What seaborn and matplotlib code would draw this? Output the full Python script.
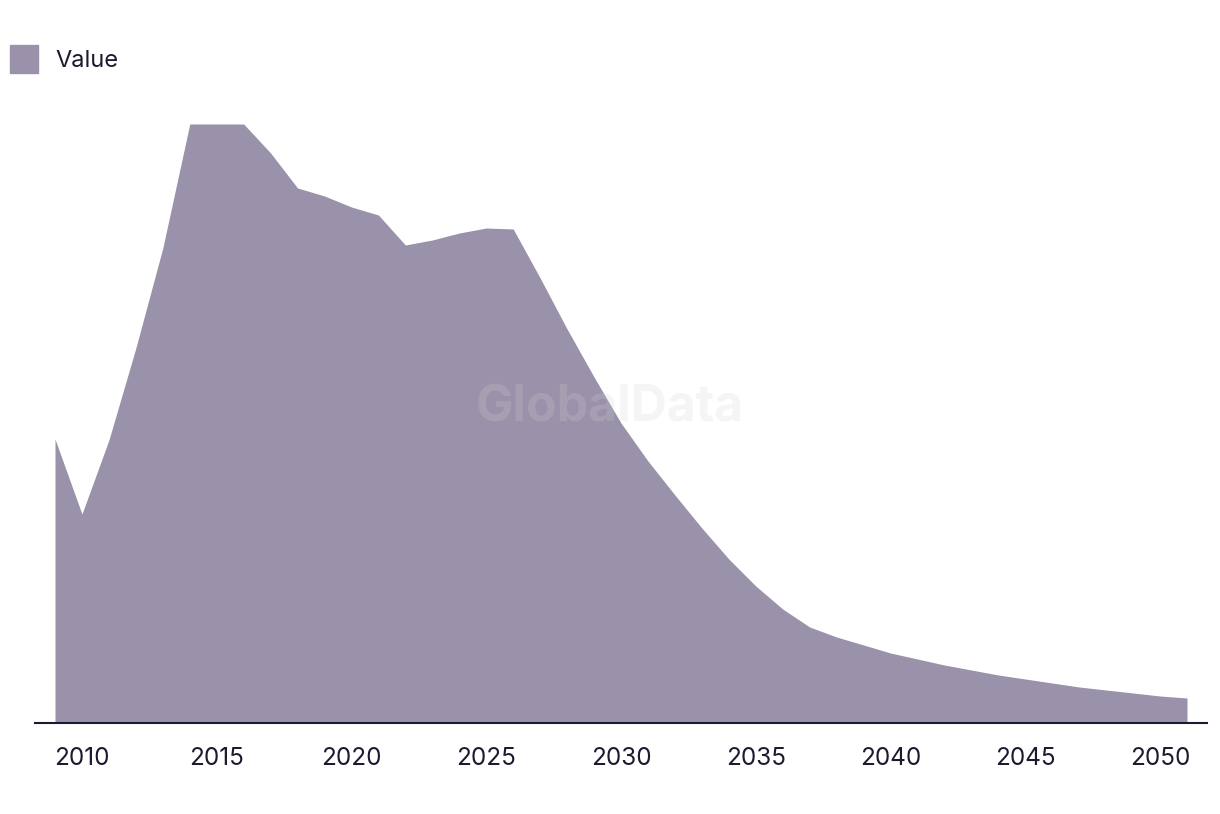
import matplotlib
matplotlib.use("Agg")
import matplotlib.pyplot as plt
import matplotlib.patches as mpatches
import seaborn as sns
import pandas as pd

years = list(range(2009, 2052))
values = [284, 209, 283, 375, 475, 599, 599, 599, 570, 535, 527, 516, 508, 478,
          483, 490, 495, 494, 445, 394, 346, 300, 262, 228, 195, 164, 137, 114,
          96, 86, 78, 70, 64, 58, 53, 48, 44, 40, 36, 33, 30, 27, 25]
tick_years = [2010, 2015, 2020, 2025, 2030, 2035, 2040, 2045, 2050]
series_name = "Value"

FILL = "#9a91aa"
TEXT = "#1b1b30"

sns.set_theme(style="white")
plt.rcParams["font.family"] = ["Inter", "DejaVu Sans"]

df = pd.DataFrame({"year": years, "value": values})

fig = plt.figure(figsize=(12.2, 8.14), dpi=100)
ax = fig.add_axes([35 / 1220, 1 - 723 / 814, (1207 - 35) / 1220, (723 - 100) / 814])

sns.lineplot(data=df, x="year", y="value", ax=ax, color=FILL, linewidth=0)
ax.fill_between(df["year"], 0, df["value"], color=FILL, linewidth=0)

ax.set_xlim(2009 - 20 / 26.95, 2051 + 20 / 26.95)
ax.set_ylim(0, 623)
ax.set_xticks(tick_years)
ax.set_xticklabels([str(t) for t in tick_years], fontsize=17.5, color=TEXT)
ax.set_yticks([])
ax.set_xlabel("")
ax.set_ylabel("")
ax.tick_params(axis="x", length=0, pad=17)
for s in ["top", "right", "left"]:
    ax.spines[s].set_visible(False)
ax.spines["bottom"].set_color(TEXT)
ax.spines["bottom"].set_linewidth(1.5)

fig.text(610 / 1220, 1 - 408 / 814, "GlobalData", fontsize=36, fontweight="bold",
         color="#d2d2d2", alpha=0.22, ha="center", va="center")

handle = mpatches.Patch(color=FILL, label=series_name)
fig.legend(handles=[handle], loc="upper left", bbox_to_anchor=(10 / 1220, 1 - 45 / 814),
           frameon=False, fontsize=17, handlelength=1.19, handleheight=1.45,
           handletextpad=0.72, borderpad=0, borderaxespad=0, labelcolor=TEXT)

fig.savefig("out.png", dpi=100)
